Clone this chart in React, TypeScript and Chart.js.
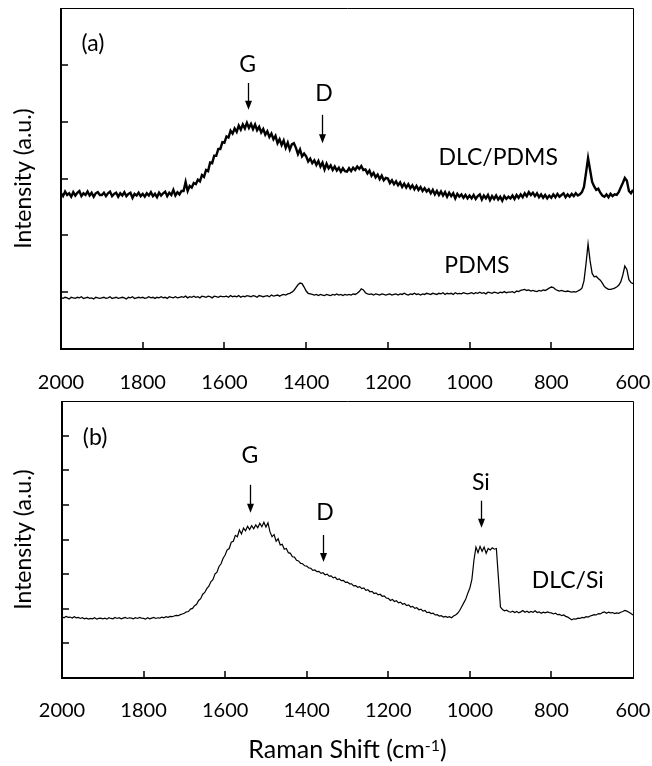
import React, { useEffect, useRef } from "react";
import { Chart, registerables } from "chart.js";

Chart.register(...registerables);

const FONT = "Lato, 'Open Sans', sans-serif";

// Spectra are sampled every 5 cm-1 from 2000 cm-1 down to 600 cm-1
const shiftStart = 2000;
const shiftStep = 5;

const xTickLabels = [2000, 1800, 1600, 1400, 1200, 1000, 800, 600];
const innerXTicks = [1800, 1600, 1400, 1200, 1000, 800];
const innerYTicksA = [1, 2, 3, 4, 5];
const innerYTicksB = [1, 2, 3, 4, 5, 6, 7];

const yTitle = "Intensity (a.u.)";
const xTitleMain = "Raman Shift (cm";
const xTitleSup = "-1";
const xTitleTail = ")";

// (a) DLC/PDMS
const dlcPdms = [
  2.74, 2.69, 2.77, 2.71, 2.74, 2.68, 2.76, 2.70, 2.75, 2.78, 2.69, 2.74, 2.71, 2.77, 2.70, 2.75, 2.68, 2.74, 2.76, 2.71,
  2.71, 2.75, 2.69, 2.74, 2.77, 2.69, 2.73, 2.75, 2.68, 2.74, 2.70, 2.76, 2.69, 2.73, 2.75, 2.66, 2.73, 2.70, 2.75, 2.69,
  2.73, 2.68, 2.74, 2.70, 2.76, 2.69, 2.73, 2.67, 2.75, 2.70, 2.74, 2.77, 2.69, 2.75, 2.71, 2.80, 2.70, 2.76, 2.72, 2.78,
  2.78, 2.94, 2.78, 2.87, 2.84, 2.92, 2.90, 2.98, 2.95, 3.06, 3.03, 3.15, 3.13, 3.28, 3.27, 3.40, 3.40, 3.52, 3.52, 3.64,
  3.63, 3.74, 3.72, 3.84, 3.79, 3.88, 3.82, 3.93, 3.86, 3.95, 3.88, 3.98, 3.89, 3.96, 3.87, 3.95, 3.85, 3.91, 3.81, 3.87,
  3.77, 3.83, 3.73, 3.79, 3.69, 3.75, 3.62, 3.69, 3.59, 3.67, 3.54, 3.63, 3.51, 3.60, 3.62, 3.54, 3.43, 3.51, 3.39, 3.44,
  3.39, 3.30, 3.35, 3.27, 3.32, 3.24, 3.31, 3.21, 3.28, 3.16, 3.26, 3.18, 3.23, 3.15, 3.21, 3.14, 3.19, 3.12, 3.18, 3.13,
  3.12, 3.18, 3.13, 3.19, 3.15, 3.21, 3.17, 3.22, 3.15, 3.16, 3.09, 3.14, 3.05, 3.10, 3.02, 3.07, 2.99, 3.05, 2.97, 3.01,
  3.00, 2.92, 2.97, 2.90, 2.95, 2.88, 2.93, 2.85, 2.91, 2.84, 2.90, 2.83, 2.88, 2.81, 2.87, 2.80, 2.85, 2.78, 2.83, 2.77,
  2.81, 2.74, 2.80, 2.72, 2.78, 2.71, 2.77, 2.70, 2.76, 2.68, 2.75, 2.69, 2.74, 2.65, 2.73, 2.68, 2.72, 2.66, 2.71, 2.65,
  2.70, 2.65, 2.71, 2.64, 2.69, 2.72, 2.63, 2.70, 2.65, 2.71, 2.62, 2.69, 2.64, 2.70, 2.63, 2.68, 2.61, 2.69, 2.64, 2.68,
  2.65, 2.70, 2.64, 2.71, 2.66, 2.72, 2.67, 2.74, 2.69, 2.76, 2.71, 2.75, 2.69, 2.74, 2.67, 2.72, 2.66, 2.71, 2.65, 2.70,
  2.66, 2.72, 2.67, 2.73, 2.68, 2.71, 2.74, 2.67, 2.72, 2.68, 2.73, 2.69, 2.74, 2.70, 2.72, 2.76, 2.85, 3.10, 3.36, 3.15,
  2.94, 2.86, 2.80, 2.82, 2.75, 2.70, 2.68, 2.72, 2.67, 2.73, 2.69, 2.72, 2.71, 2.76, 2.84, 2.92, 3.01, 2.96, 2.78, 2.74,
  2.80,
];

// (a) PDMS
const pdms = [
  0.90, 0.89, 0.91, 0.90, 0.88, 0.91, 0.90, 0.89, 0.91, 0.90, 0.92, 0.89, 0.90, 0.91, 0.89, 0.90, 0.88, 0.91, 0.90, 0.89,
  0.90, 0.91, 0.89, 0.90, 0.92, 0.89, 0.90, 0.91, 0.89, 0.90, 0.91, 0.90, 0.88, 0.91, 0.90, 0.92, 0.89, 0.90, 0.91, 0.90,
  0.91, 0.89, 0.90, 0.92, 0.90, 0.91, 0.89, 0.91, 0.90, 0.92, 0.90, 0.91, 0.89, 0.92, 0.91, 0.90, 0.92, 0.90, 0.91, 0.92,
  0.91, 0.93, 0.90, 0.92, 0.91, 0.93, 0.91, 0.92, 0.90, 0.93, 0.92, 0.91, 0.93, 0.92, 0.90, 0.93, 0.92, 0.91, 0.93, 0.92,
  0.92, 0.93, 0.91, 0.94, 0.92, 0.93, 0.92, 0.94, 0.91, 0.93, 0.92, 0.94, 0.93, 0.92, 0.94, 0.93, 0.91, 0.94, 0.93, 0.92,
  0.93, 0.94, 0.92, 0.95, 0.93, 0.94, 0.95, 0.93, 0.95, 0.96, 0.95, 0.97, 0.98, 1.00, 1.03, 1.08, 1.13, 1.16, 1.15, 1.09,
  1.02, 0.98, 0.97, 0.96, 0.95, 0.96, 0.94, 0.96, 0.95, 0.94, 0.96, 0.95, 0.94, 0.96, 0.95, 0.97, 0.95, 0.96, 0.94, 0.96,
  0.95, 0.96, 0.95, 0.97, 0.96, 0.98, 1.01, 1.06, 1.04, 0.99, 0.97, 0.96, 0.97, 0.95, 0.97, 0.96, 0.95, 0.97, 0.96, 0.95,
  0.96, 0.97, 0.95, 0.96, 0.97, 0.95, 0.97, 0.96, 0.98, 0.96, 0.95, 0.97, 0.96, 0.98, 0.96, 0.97, 0.95, 0.97, 0.96, 0.98,
  0.97, 0.96, 0.98, 0.97, 0.96, 0.98, 0.97, 0.99, 0.96, 0.98, 0.97, 0.98, 0.96, 0.99, 0.97, 0.98, 0.97, 0.99, 0.98, 0.97,
  0.98, 0.99, 0.97, 0.99, 0.98, 1.00, 0.98, 0.99, 0.97, 1.00, 0.99, 0.98, 1.00, 0.99, 0.98, 1.00, 0.99, 1.01, 0.99, 1.00,
  1.00, 1.01, 0.99, 1.02, 1.01, 1.03, 1.04, 1.05, 1.03, 1.04, 1.02, 1.03, 1.02, 1.01, 1.03, 1.02, 1.04, 1.03, 1.05, 1.07,
  1.09, 1.08, 1.05, 1.03, 1.02, 1.03, 1.02, 1.01, 1.02, 1.01, 1.00, 1.01, 1.00, 1.02, 1.04, 1.07, 1.20, 1.50, 1.85, 1.55,
  1.33, 1.27, 1.28, 1.24, 1.21, 1.16, 1.10, 1.07, 1.05, 1.05, 1.06, 1.07, 1.09, 1.12, 1.18, 1.30, 1.46, 1.40, 1.22, 1.17,
  1.15,
];

// (b) DLC/Si
const dlcSi = [
  1.77, 1.74, 1.78, 1.75, 1.76, 1.73, 1.77, 1.74, 1.75, 1.72, 1.74, 1.71, 1.73, 1.70, 1.72, 1.71, 1.74, 1.70, 1.72, 1.73,
  1.71, 1.73, 1.70, 1.74, 1.72, 1.71, 1.75, 1.72, 1.74, 1.71, 1.73, 1.75, 1.72, 1.74, 1.73, 1.71, 1.74, 1.72, 1.75, 1.73,
  1.72, 1.70, 1.74, 1.71, 1.73, 1.75, 1.72, 1.74, 1.73, 1.76, 1.74, 1.77, 1.75, 1.78, 1.77, 1.79, 1.81, 1.80, 1.83, 1.85,
  1.87, 1.91, 1.92, 1.99, 2.01, 2.09, 2.13, 2.24, 2.29, 2.42, 2.47, 2.58, 2.65, 2.78, 2.84, 3.00, 3.06, 3.22, 3.30, 3.46,
  3.55, 3.70, 3.74, 3.92, 3.95, 4.12, 4.08, 4.28, 4.16, 4.33, 4.25, 4.38, 4.29, 4.40, 4.31, 4.42, 4.34, 4.47, 4.37, 4.50,
  4.36, 4.48, 4.22, 4.08, 4.14, 3.95, 4.02, 3.84, 3.86, 3.72, 3.74, 3.62, 3.60, 3.50, 3.49, 3.40, 3.38, 3.31, 3.30, 3.24,
  3.23, 3.18, 3.17, 3.11, 3.12, 3.07, 3.08, 3.02, 3.04, 2.98, 3.00, 2.94, 2.95, 2.89, 2.91, 2.84, 2.86, 2.81, 2.82, 2.76,
  2.77, 2.72, 2.72, 2.66, 2.67, 2.62, 2.64, 2.58, 2.60, 2.53, 2.55, 2.49, 2.50, 2.44, 2.46, 2.40, 2.42, 2.36, 2.37, 2.31,
  2.30, 2.24, 2.27, 2.21, 2.23, 2.17, 2.19, 2.13, 2.15, 2.09, 2.11, 2.05, 2.07, 2.01, 2.03, 1.97, 1.99, 1.93, 1.95, 1.89,
  1.90, 1.86, 1.87, 1.82, 1.83, 1.79, 1.80, 1.76, 1.78, 1.75, 1.77, 1.74, 1.79, 1.82, 1.87, 1.95, 2.06, 2.17, 2.28, 2.45,
  2.60, 2.85, 3.40, 3.78, 3.62, 3.80, 3.66, 3.78, 3.60, 3.74, 3.70, 3.76, 3.72, 3.74, 2.90, 2.05, 1.98, 1.94, 1.96, 1.92,
  1.90, 1.93, 1.89, 1.92, 1.88, 1.91, 1.95, 1.90, 1.93, 1.89, 1.92, 1.90, 1.94, 1.89, 1.91, 1.87, 1.90, 1.88, 1.91, 1.89,
  1.88, 1.85, 1.87, 1.83, 1.84, 1.80, 1.82, 1.78, 1.76, 1.72, 1.68, 1.71, 1.70, 1.73, 1.72, 1.75, 1.74, 1.77, 1.76, 1.79,
  1.81, 1.83, 1.82, 1.86, 1.85, 1.89, 1.91, 1.87, 1.90, 1.88, 1.89, 1.86, 1.88, 1.87, 1.90, 1.92, 1.95, 1.93, 1.90, 1.86,
  1.82,
];

// Annotations (data coordinates: Raman shift, intensity)
const labelsA = [
  { text: "(a)", x: 1922, y: 5.38 },
  { text: "G", x: 1543, y: 5.0 },
  { text: "D", x: 1356, y: 4.5 },
  { text: "DLC/PDMS", x: 930, y: 3.36 },
  { text: "PDMS", x: 982, y: 1.46 },
];
const arrowsA = [
  { x: 1543, from: 4.68, to: 4.21 },
  { x: 1361, from: 4.12, to: 3.62 },
];
const labelsB = [
  { text: "(b)", x: 1919, y: 6.94 },
  { text: "G", x: 1539, y: 6.42 },
  { text: "D", x: 1355, y: 4.77 },
  { text: "Si", x: 973, y: 5.64 },
  { text: "DLC/Si", x: 760, y: 2.8 },
];
const arrowsB = [
  { x: 1539, from: 5.58, to: 4.77 },
  { x: 1360, from: 4.13, to: 3.35 },
  { x: 973, from: 5.12, to: 4.34 },
];

const toPoints = (vals: number[]) =>
  vals.map((v, i) => ({ x: shiftStart - shiftStep * i, y: v }));

const decorPlugin = {
  id: "decor",
  afterDatasetsDraw(chart: any, _args: any, opts: any) {
    const { ctx, chartArea: a } = chart;
    const xs = chart.scales.x;
    const ys = chart.scales.y;
    ctx.save();
    ctx.strokeStyle = "#000";
    ctx.fillStyle = "#000";
    // frame: thin top/right, heavier left/bottom
    ctx.lineWidth = 1;
    ctx.beginPath();
    ctx.moveTo(a.left, a.top + 0.5);
    ctx.lineTo(a.right + 0.5, a.top + 0.5);
    ctx.lineTo(a.right + 0.5, a.bottom);
    ctx.stroke();
    ctx.lineWidth = 2;
    ctx.beginPath();
    ctx.moveTo(a.left, a.top);
    ctx.lineTo(a.left, a.bottom);
    ctx.lineTo(a.right + 1, a.bottom);
    ctx.stroke();
    // inward tick marks
    ctx.lineWidth = 1.5;
    ctx.beginPath();
    for (const v of opts.xInner) {
      const px = Math.round(xs.getPixelForValue(v));
      ctx.moveTo(px, a.bottom);
      ctx.lineTo(px, a.bottom - 7);
    }
    for (const v of opts.yInner) {
      const py = Math.round(ys.getPixelForValue(v));
      ctx.moveTo(a.left, py);
      ctx.lineTo(a.left + 7, py);
    }
    ctx.stroke();
    // labels
    ctx.font = `23px ${FONT}`;
    ctx.textAlign = "center";
    ctx.textBaseline = "middle";
    for (const l of opts.labels) {
      ctx.fillText(l.text, xs.getPixelForValue(l.x), ys.getPixelForValue(l.y));
    }
    // arrows
    ctx.lineWidth = 1.3;
    for (const ar of opts.arrows) {
      const px = Math.round(xs.getPixelForValue(ar.x)) + 0.5;
      const y1 = ys.getPixelForValue(ar.from);
      const y2 = ys.getPixelForValue(ar.to);
      ctx.beginPath();
      ctx.moveTo(px, y1);
      ctx.lineTo(px, y2 - 8);
      ctx.stroke();
      ctx.beginPath();
      ctx.moveTo(px - 3.5, y2 - 9);
      ctx.lineTo(px + 3.5, y2 - 9);
      ctx.lineTo(px, y2);
      ctx.closePath();
      ctx.fill();
    }
    // x-axis title with superscript
    if (opts.xTitle) {
      const base = a.bottom + opts.xTitle.offset;
      const cx = (a.left + a.right) / 2;
      ctx.textBaseline = "alphabetic";
      ctx.textAlign = "left";
      const mainFont = `25px ${FONT}`;
      const supFont = `16px ${FONT}`;
      ctx.font = mainFont;
      const w1 = ctx.measureText(xTitleMain).width;
      const w3 = ctx.measureText(xTitleTail).width;
      ctx.font = supFont;
      const w2 = ctx.measureText(xTitleSup).width;
      const start = cx - (w1 + w2 + w3) / 2;
      ctx.font = mainFont;
      ctx.fillText(xTitleMain, start, base);
      ctx.font = supFont;
      ctx.fillText(xTitleSup, start + w1, base - 7);
      ctx.font = mainFont;
      ctx.fillText(xTitleTail, start + w1 + w2, base);
    }
    ctx.restore();
  },
};

function makeConfig(p: {
  series: { values: number[]; width: number }[];
  yMax: number;
  yInner: number[];
  labels: any[];
  arrows: any[];
  padTop: number;
  axisHeight: number;
  axisWidth: number;
  tickPad: number;
  xTitle?: any;
}): any {
  return {
    type: "line",
    data: {
      datasets: p.series.map((s) => ({
        data: toPoints(s.values),
        borderColor: "#000",
        borderWidth: s.width,
        pointRadius: 0,
        fill: false,
        tension: 0,
      })),
    },
    options: {
      responsive: false,
      animation: false,
      events: [],
      layout: { padding: { top: p.padTop, right: 19, left: 0, bottom: 0 } },
      plugins: {
        legend: { display: false },
        tooltip: { enabled: false },
        decor: {
          xInner: innerXTicks,
          yInner: p.yInner,
          labels: p.labels,
          arrows: p.arrows,
          xTitle: p.xTitle,
        },
      },
      scales: {
        x: {
          type: "linear",
          reverse: true,
          min: 600,
          max: 2000,
          afterBuildTicks: (s: any) => {
            s.ticks = xTickLabels.map((v) => ({ value: v }));
          },
          afterFit: (s: any) => {
            s.height = p.axisHeight;
            s.paddingLeft = 0;
            s.paddingRight = 0;
          },
          ticks: {
            autoSkip: false,
            maxRotation: 0,
            padding: p.tickPad,
            color: "#000",
            font: { family: FONT, size: 20 },
            callback: (v: any) => String(v),
          },
          grid: { display: false, drawTicks: false },
          border: { display: false },
        },
        y: {
          min: 0,
          max: p.yMax,
          afterFit: (s: any) => {
            s.width = p.axisWidth;
            s.paddingTop = 0;
            s.paddingBottom = 0;
          },
          ticks: { display: false },
          grid: { display: false, drawTicks: false },
          border: { display: false },
          title: {
            display: true,
            text: yTitle,
            color: "#000",
            font: { family: FONT, size: 23 },
            padding: { top: 10, bottom: 0 },
          },
        },
      },
    },
    plugins: [decorPlugin],
  };
}

export default function App() {
  const refA = useRef<HTMLCanvasElement>(null);
  const refB = useRef<HTMLCanvasElement>(null);

  useEffect(() => {
    let charts: Chart[] = [];
    let cancelled = false;
    const build = () => {
      if (cancelled || !refA.current || !refB.current) return;
      charts = [
        new Chart(
          refA.current,
          makeConfig({
            series: [
              { values: dlcPdms, width: 2.4 },
              { values: pdms, width: 1.3 },
            ],
            yMax: 6,
            yInner: innerYTicksA,
            labels: labelsA,
            arrows: arrowsA,
            padTop: 8,
            axisHeight: 51,
            axisWidth: 61,
            tickPad: 22,
          })
        ),
        new Chart(
          refB.current,
          makeConfig({
            series: [{ values: dlcSi, width: 1.2 }],
            yMax: 8,
            yInner: innerYTicksB,
            labels: labelsB,
            arrows: arrowsB,
            padTop: 18,
            axisHeight: 88,
            axisWidth: 62,
            tickPad: 21,
            xTitle: { offset: 80 },
          })
        ),
      ];
    };
    const fonts: any = (document as any).fonts;
    const ready = fonts
      ? Promise.all([
          fonts.load(`20px Lato`),
          fonts.load(`23px Lato`),
          fonts.load(`25px Lato`),
        ]).catch(() => undefined)
      : Promise.resolve();
    ready.then(build);
    return () => {
      cancelled = true;
      charts.forEach((c) => c.destroy());
    };
  }, []);

  return (
    <div
      style={{
        position: "absolute",
        left: 0,
        top: 0,
        width: 652,
        height: 766,
        background: "#fff",
      }}
    >
      <canvas
        ref={refA}
        width={652}
        height={400}
        style={{ position: "absolute", left: 0, top: 0 }}
      />
      <canvas
        ref={refB}
        width={652}
        height={383}
        style={{ position: "absolute", left: 0, top: 383 }}
      />
    </div>
  );
}
